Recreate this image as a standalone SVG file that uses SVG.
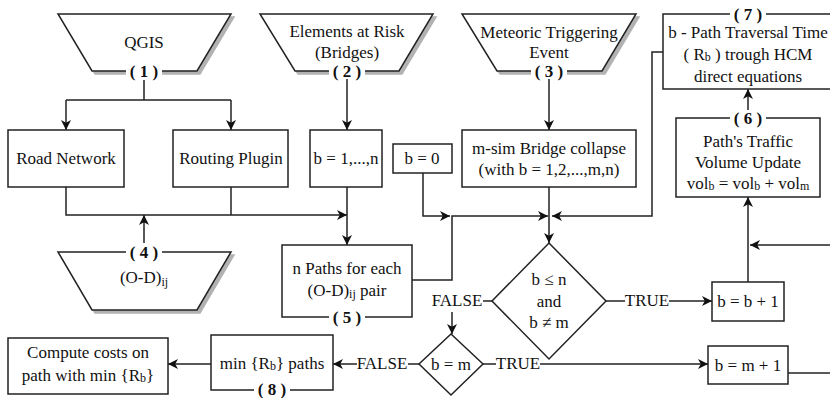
<svg xmlns="http://www.w3.org/2000/svg" width="830" height="398" viewBox="0 0 830 398">
<defs>
<style>
.s{fill:#fff;stroke:#222;stroke-width:1.5}
.t{font-family:"Liberation Serif","Times New Roman",serif;font-size:17px;fill:#111;text-anchor:middle;dominant-baseline:central}
.b{font-weight:bold}
.c{fill:none;stroke:#222;stroke-width:1.5}
.a{marker-end:url(#ar)}
.bg{fill:#fff;stroke:none}
</style>
<marker id="ar" markerWidth="11" markerHeight="11" refX="10" refY="5.5" orient="auto" markerUnits="userSpaceOnUse">
<path d="M0,0.5 L10,5.5 L0,10.5 L2.8,5.5 z" fill="#111"/>
</marker>
<filter id="sh" x="-10%" y="-10%" width="130%" height="140%">
<feDropShadow dx="3" dy="3" stdDeviation="0.6" flood-color="#000" flood-opacity="0.3"/>
</filter>
</defs>

<g id="connectors">
<path class="c" d="M144,79 V100 M66,100 H231"/>
<path class="c a" d="M66,100 V130"/>
<path class="c a" d="M231,100 V130"/>
<path class="c a" d="M347,79 V130"/>
<path class="c a" d="M549,79 V130"/>
<path class="c" d="M231,187 V215"/>
<path class="c a" d="M66,187 V215 H347"/>
<path class="c a" d="M144,244 V215"/>
<path class="c a" d="M347,187 V245"/>
<path class="c a" d="M423,173 V216 H450"/>
<path class="c a" d="M412,280 H452 V216 H548"/>
<path class="c a" d="M663,52 H652 V216 H552"/>
<path class="c a" d="M549,187 V243"/>
<path class="c" d="M492,301 H483"/>
<text class="t" x="457" y="300">FALSE</text>
<path class="c a" d="M452,312 V334"/>
<path class="c" d="M606,301 H625"/>
<text class="t" x="647" y="300">TRUE</text>
<path class="c a" d="M669,301 H712"/>
<path class="c a" d="M748,282 V197"/>
<path class="c a" d="M830,245 H750"/>
<path class="c a" d="M748,111 V89"/>
<path class="c" d="M483,364 H496"/>
<text class="t" x="518" y="363">TRUE</text>
<path class="c a" d="M540,364 H708"/>
<path class="c" d="M419,364 H408"/>
<text class="t" x="382" y="363">FALSE</text>
<path class="c a" d="M357,364 H333"/>
<path class="c a" d="M211,364 H168"/>
<path class="c" d="M788,373 H830"/>
</g>

<g id="n1">
<polygon class="s" filter="url(#sh)" points="58,14 231,14 197,71 92,71"/>
<text class="t" x="144" y="42">QGIS</text>
<rect class="bg" x="126" y="62" width="36" height="18"/>
<text class="t b" x="144" y="71">( 1 )</text>
</g>

<g id="n2">
<polygon class="s" filter="url(#sh)" points="260,14 433,14 399,71 295,71"/>
<text class="t" x="347" y="31">Elements at Risk</text>
<text class="t" x="347" y="52">(Bridges)</text>
<rect class="bg" x="329" y="63" width="36" height="16"/>
<text class="t b" x="347" y="71">( 2 )</text>
</g>

<g id="n3">
<polygon class="s" filter="url(#sh)" points="462,14 636,14 602,71 497,71"/>
<text class="t" x="549" y="32">Meteoric Triggering</text>
<text class="t" x="549" y="52">Event</text>
<rect class="bg" x="531" y="63" width="36" height="16"/>
<text class="t b" x="549" y="71">( 3 )</text>
</g>

<g id="n4">
<polygon class="s" filter="url(#sh)" points="58,252 231,252 197,310 92,310"/>
<rect class="bg" x="126" y="243" width="36" height="18"/>
<text class="t b" x="144" y="252">( 4 )</text>
<text class="t" x="144" y="277">(O-D)<tspan font-size="12" dy="5">ij</tspan></text>
</g>

<g id="road">
<rect class="s" x="8" y="130" width="116" height="57"/>
<text class="t" x="66" y="158">Road Network</text>
</g>

<g id="routing">
<rect class="s" x="173" y="130" width="115" height="57"/>
<text class="t" x="231" y="158">Routing Plugin</text>
</g>

<g id="bn">
<rect class="s" x="310" y="130" width="72" height="57"/>
<text class="t" x="346" y="158">b = 1,...,n</text>
</g>

<g id="b0">
<rect class="s" x="393" y="144" width="59" height="29"/>
<text class="t" x="422" y="158">b = 0</text>
</g>

<g id="msim">
<rect class="s" x="462" y="130" width="174" height="57"/>
<text class="t" x="549" y="148">m-sim Bridge collapse</text>
<text class="t" x="549" y="169">(with b = 1,2,...,m,n)</text>
</g>

<g id="n7">
<rect class="s" x="663" y="14" width="172" height="75"/>
<rect class="bg" x="730" y="6" width="36" height="16"/>
<text class="t b" x="748" y="14">( 7 )</text>
<text class="t" x="748" y="32">b - Path Traversal Time</text>
<text class="t" x="748" y="54">( R<tspan font-size="12" dy="3">b</tspan><tspan dy="-3"> ) trough HCM</tspan></text>
<text class="t" x="748" y="76">direct equations</text>
</g>

<g id="n6">
<rect class="s" x="676" y="118" width="144" height="79"/>
<rect class="bg" x="730" y="110" width="36" height="16"/>
<text class="t b" x="748" y="118">( 6 )</text>
<text class="t" x="748" y="141">Path's Traffic</text>
<text class="t" x="748" y="162">Volume Update</text>
<text class="t" x="748" y="183">vol<tspan font-size="12" dy="3">b</tspan><tspan dy="-3"> = vol</tspan><tspan font-size="12" dy="3">b</tspan><tspan dy="-3"> + vol</tspan><tspan font-size="12" dy="3">m</tspan></text>
</g>

<g id="n5">
<rect class="s" x="282" y="245" width="130" height="72"/>
<text class="t" x="347" y="268">n Paths for each</text>
<text class="t" x="347" y="290">(O-D)<tspan font-size="12" dy="4">ij</tspan><tspan dy="-4"> pair</tspan></text>
<rect class="bg" x="329" y="309" width="36" height="16"/>
<text class="t b" x="347" y="317">( 5 )</text>
</g>

<g id="d1">
<polygon class="s" points="549,243 606,301 549,359 492,301"/>
<text class="t" x="549" y="279">b ≤ n</text>
<text class="t" x="549" y="301">and</text>
<text class="t" x="549" y="322">b ≠ m</text>
</g>

<g id="bb1">
<rect class="s" x="712" y="282" width="72" height="39"/>
<text class="t" x="748" y="301">b = b + 1</text>
</g>

<g id="d2">
<polygon class="s" points="451,334 483,364 451,395 419,364"/>
<text class="t" x="451" y="364">b = m</text>
</g>

<g id="bm1">
<rect class="s" x="708" y="346" width="80" height="38"/>
<text class="t" x="748" y="365">b = m + 1</text>
</g>

<g id="n8">
<rect class="s" x="211" y="335" width="122" height="55"/>
<text class="t" x="272" y="363">min {R<tspan font-size="12" dy="3">b</tspan><tspan dy="-3">} paths</tspan></text>
<rect class="bg" x="254" y="382" width="36" height="16"/>
<text class="t b" x="272" y="389">( 8 )</text>
</g>

<g id="compute">
<rect class="s" x="8" y="338" width="160" height="56"/>
<text class="t" x="88" y="352">Compute costs on</text>
<text class="t" x="88" y="375">path with min {R<tspan font-size="12" dy="3">b</tspan><tspan dy="-3">}</tspan></text>
</g>
</svg>
